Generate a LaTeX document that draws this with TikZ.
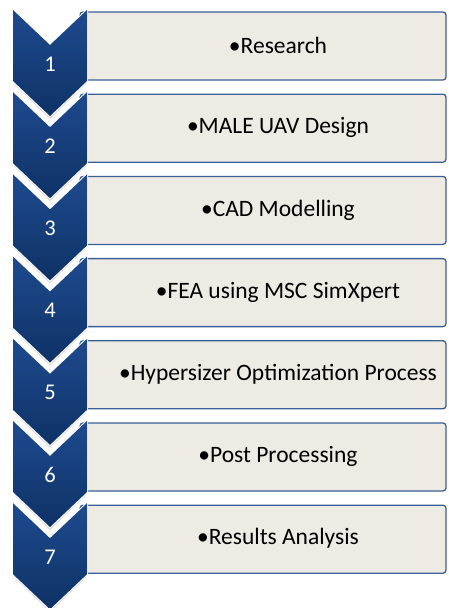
\documentclass[tikz,border=0pt]{standalone}
\usepackage{fontspec}
\setmainfont{Carlito}
\definecolor{boxfill}{RGB}{238,235,228}
\definecolor{boxline}{RGB}{58,95,150}
\definecolor{chevtop}{RGB}{30,74,142}
\definecolor{chevbot}{RGB}{14,50,102}
\tikzset{
  stepbox/.style={fill=boxfill, draw=boxline, line width=1.3pt, rounded corners=3pt},
  numlabel/.style={text=white, font=\fontsize{22.5}{26}\selectfont, inner sep=0pt},
  steptext/.style={text=black, font=\fontsize{23.5}{27}\selectfont, inner sep=0pt}
}
\begin{document}
\begin{tikzpicture}[x=1pt,y=-1pt]
\useasboundingbox (0,0) rectangle (448,608);
% boxes
\foreach \i/\txt in {1/Research,2/MALE UAV Design,3/CAD Modelling,4/FEA using MSC SimXpert,5/Hypersizer Optimization Process,6/Post Processing,7/Results Analysis}{
  \pgfmathsetmacro\t{10+82.2*(\i-1)}
  \draw[stepbox] (80,\t+2) rectangle (446,\t+70);
  \node[steptext] (t\i) at (278,\t+35.5) {•\txt};
}
% chevrons
\foreach \i in {1,...,7}{
  \pgfmathsetmacro\t{10+82.2*(\i-1)}
  \fill[black, opacity=0.15] (14,\t+3) -- (50,\t+38) -- (86,\t+3) -- (86,\t+74) -- (50,\t+109) -- (14,\t+74) -- cycle;
  \draw[white, line width=2pt, line join=miter] (13,\t) -- (50,\t+35) -- (87,\t) -- (87,\t+71) -- (50,\t+106) -- (13,\t+71) -- cycle;
  \shade[top color=chevtop, bottom color=chevbot] (13,\t) -- (50,\t+35) -- (87,\t) -- (87,\t+71) -- (50,\t+106) -- (13,\t+71) -- cycle;
  \node[numlabel] (n\i) at (50,\t+54) {\i};
}
\end{tikzpicture}
\end{document}
